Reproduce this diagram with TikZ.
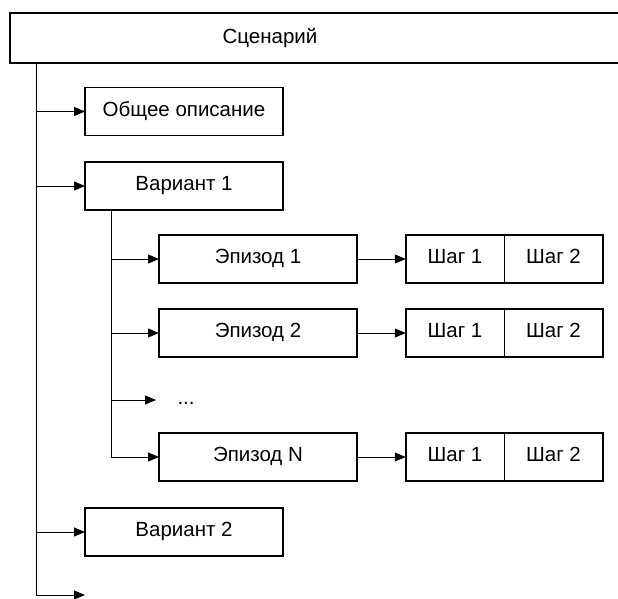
\documentclass[tikz,border=0pt]{standalone}
\usepackage{fontspec}
\setmainfont{Liberation Sans}
\usepackage{tikz}
\usetikzlibrary{arrows.meta}
\usetikzlibrary{positioning}

\begin{document}
\begin{tikzpicture}[
  x=1pt, y=-1pt,
  font=\fontsize{20.5}{24}\selectfont,
  box/.style={draw, line width=1.5pt, minimum height=48pt, inner sep=0pt, outer sep=0pt,
    text height=0.95em, text depth=0pt},
  wide/.style={box, minimum width=198pt},
  stepbox/.style={box, minimum width=98.5pt},
  line/.style={line width=1pt},
  link/.style={line, -{Triangle[length=11pt,width=9pt]}}]
  \useasboundingbox (0,0) rectangle (618,598);
  % top frame
  \draw[line width=1.5pt] (10,13) rectangle (640,63);
  \node[text height=0.95em, text depth=0pt] (scen) at (270,39) {Сценарий};
  \coordinate (trunk) at (36,63);

  \node[wide] (desc) at (184,111.5) {Общее описание};
  \node[wide] (var1) at (184,186) {Вариант 1};
  \node[wide] (var2) at (184,532) {Вариант 2};
  \coordinate (more) at (85,595);

  \node[wide] (ep1) at (258,259) {Эпизод 1};
  \node[wide] (ep2) at (258,333) {Эпизод 2};
  \node[wide] (epN) at (258,457) {Эпизод N};
  \node[anchor=base west] (dots) at (174,404) {...};
  \coordinate (dotsend) at (156,400);
  \coordinate (sub) at (111,210);

  \foreach \e in {1,2,N} {
    \node[stepbox] (s1\e) at (455,0 |- ep\e) {Шаг 1};
    \node[stepbox, right=0pt of s1\e] (s2\e) {Шаг 2};
    \draw[link] (ep\e) -- (s1\e);
  }

  \draw[line] (trunk) -- (trunk |- more);
  \foreach \n in {desc,var1,var2,more}
    \draw[link] (trunk |- \n) -- (\n);

  \draw[line] (sub) -- (sub |- epN);
  \foreach \n in {ep1,ep2,epN}
    \draw[link] (sub |- \n) -- (\n);
  \draw[link] (sub |- dotsend) -- (dotsend);
\end{tikzpicture}
\end{document}
